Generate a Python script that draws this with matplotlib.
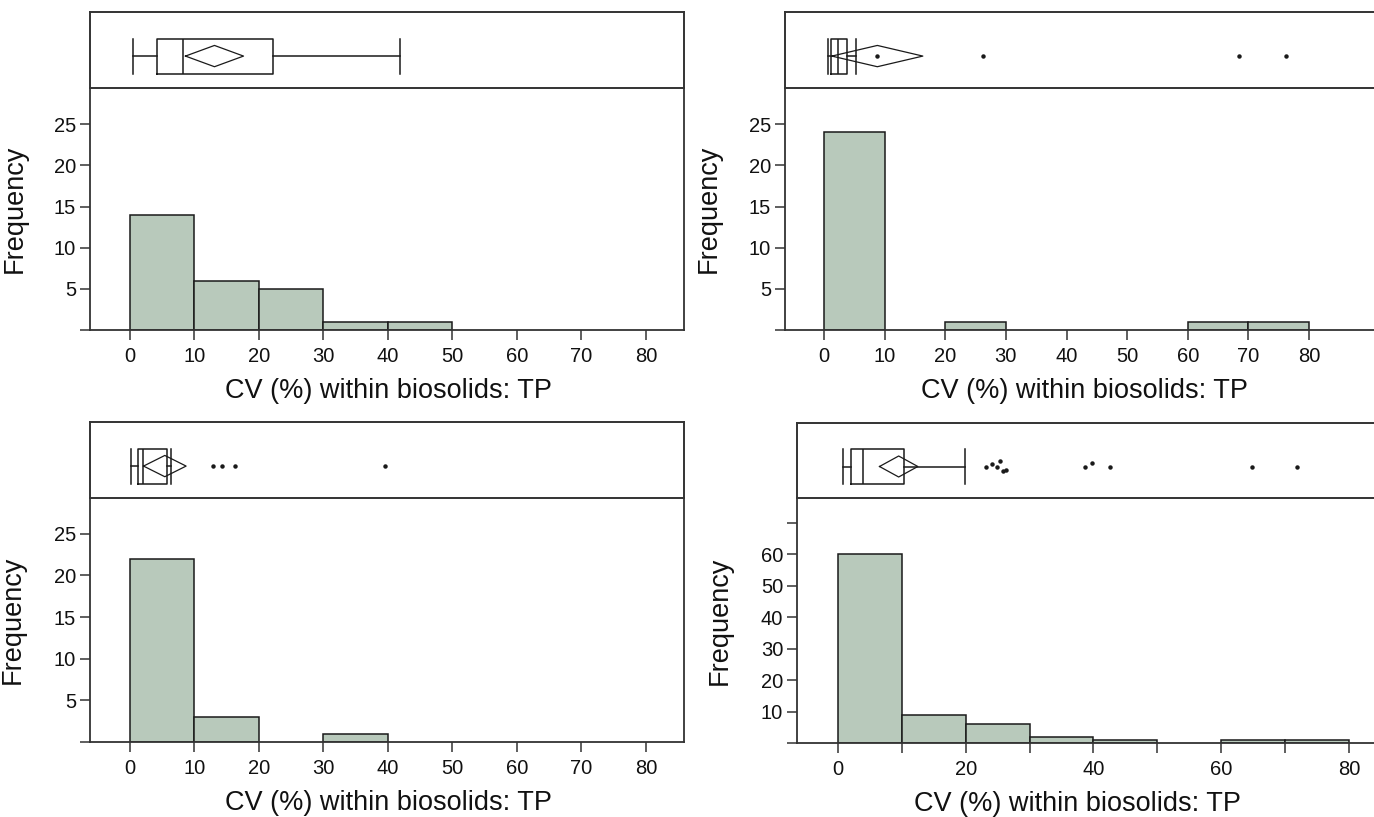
import matplotlib.pyplot as plt
import numpy as np

plt.rcParams['font.family'] = ['Liberation Sans', 'DejaVu Sans']

# histogram bins (CV %, width 10)
bin_left = [0, 10, 20, 30, 40, 50, 60, 70]
counts_tl = [14, 6, 5, 1, 1, 0, 0, 0]
counts_tr = [24, 0, 1, 0, 0, 0, 1, 1]
counts_bl = [22, 3, 0, 1, 0, 0, 0, 0]
counts_br = [60, 9, 6, 2, 1, 0, 1, 1]

# box plot summaries: whisker low, Q1, median, Q3, whisker high
box_tl = [0.4, 4.2, 8.2, 22.2, 41.9]
box_tr = [0.6, 1.2, 2.3, 3.8, 5.3]
box_bl = [0.2, 1.2, 2.0, 5.7, 6.3]
box_br = [0.8, 2.0, 3.9, 10.3, 19.9]

# mean and diamond half-width
mean_tl, ci_tl = 13.1, 4.5
mean_tr, ci_tr = 8.8, 7.5
mean_bl, ci_bl = 5.4, 3.3
mean_br, ci_br = 9.5, 3.0

# outliers and their small vertical jitter
out_tl = []
jit_tl = []
out_tr = [8.8, 26.2, 68.5, 76.2]
jit_tr = [0, 0, 0, 0]
out_bl = [12.9, 14.2, 16.3, 39.5]
jit_bl = [0, 0, 0, 0]
out_br = [23.1, 24.1, 24.9, 25.3, 25.9, 26.3, 38.7, 39.8, 42.6, 64.9, 71.8]
jit_br = [0, 0.03, 0, 0.07, -0.06, -0.05, 0, 0.05, 0, 0, 0]

W, H = 1374, 817
fig = plt.figure(figsize=(W / 100, H / 100), dpi=100)

BAR = '#b8c9bb'
EDGE = '#1a1a1a'
SPINE = '#333333'
TXT = '#111111'


def px_axes(l, t, r, b):
    return fig.add_axes([l / W, 1 - b / H, (r - l) / W, (b - t) / H])


def panel(box_px, hist_px, xlim, ylim, counts, box, mean, ci, outs, jits,
          yticks, ylabels, xmajor, xminor, ylab_x, xlab_center):
    axh = px_axes(*hist_px)
    axb = px_axes(*box_px)

    # box panel
    y0 = 0.42
    stats = [dict(whislo=box[0], q1=box[1], med=box[2], q3=box[3],
                  whishi=box[4], fliers=[])]
    axb.bxp(stats, positions=[y0], widths=0.46, orientation='horizontal',
            showfliers=False, capwidths=[0.46],
            boxprops=dict(color=EDGE, lw=1.1),
            medianprops=dict(color=EDGE, lw=1.1),
            whiskerprops=dict(color=EDGE, lw=1.1),
            capprops=dict(color=EDGE, lw=1.1))
    dh = 0.14
    axb.plot([mean - ci, mean, mean + ci, mean, mean - ci],
             [y0, y0 + dh, y0, y0 - dh, y0], color=EDGE, lw=0.9)
    if outs:
        axb.plot(outs, np.array(jits) + y0, ls='none', marker='o',
                 ms=2.2, color=EDGE)
    axb.set_xlim(*xlim)
    axb.set_ylim(0, 1)
    axb.set_xticks([])
    axb.set_yticks([])
    for s in axb.spines.values():
        s.set_color(SPINE)
        s.set_linewidth(1.4)

    # histogram panel
    heights = [c for c in counts if c > 0]
    lefts = [b for b, c in zip(bin_left, counts) if c > 0]
    axh.bar(lefts, heights, width=10, align='edge', color=BAR,
            edgecolor=EDGE, linewidth=1.1)
    axh.set_xlim(*xlim)
    axh.set_ylim(*ylim)
    axh.spines['top'].set_visible(False)
    for s in ['left', 'right', 'bottom']:
        axh.spines[s].set_color(SPINE)
        axh.spines[s].set_linewidth(1.3)
    axh.set_xticks(xmajor)
    axh.set_xticks(xminor, minor=True)
    axh.set_yticks(yticks)
    axh.set_yticklabels(ylabels)
    axh.tick_params(axis='both', which='both', direction='out', length=7,
                    width=1.1, color=SPINE, labelsize=14.5, pad=3,
                    labelcolor=TXT)
    axh.tick_params(axis='x', pad=5)
    axh.set_ylabel('Frequency', fontsize=19.5, color=TXT)
    axh.set_xlabel('CV (%) within biosolids: TP', fontsize=19.5, color=TXT)
    l, t, r, b = hist_px
    axh.yaxis.set_label_coords((ylab_x - l) / (r - l), 0.5)
    axh.xaxis.set_label_coords((xlab_center - l) / (r - l), -48 / (b - t))
    return axb, axh


ticks25 = [0, 5, 10, 15, 20, 25]
labs25 = ['', '5', '10', '15', '20', '25']
xt_all = [0, 10, 20, 30, 40, 50, 60, 70, 80]

panel((90, 12, 684, 88), (90, 88, 684, 330), (-6.2, 85.9), (0, 29.4),
      counts_tl, box_tl, mean_tl, ci_tl, out_tl, jit_tl,
      ticks25, labs25, xt_all, [], 28, 388)

panel((785, 12, 1400, 88), (785, 88, 1400, 330), (-6.43, 95.0), (0, 29.4),
      counts_tr, box_tr, mean_tr, ci_tr, out_tr, jit_tr,
      ticks25, labs25, xt_all, [], 722, 1084)

panel((90, 422, 684, 498), (90, 498, 684, 742), (-6.2, 85.9), (0, 29.3),
      counts_bl, box_bl, mean_bl, ci_bl, out_bl, jit_bl,
      ticks25, labs25, xt_all, [], 26, 388)

panel((797, 423, 1400, 498), (797, 498, 1400, 743), (-6.42, 88.0), (0, 77.8),
      counts_br, box_br, mean_br, ci_br, out_br, jit_br,
      [0, 10, 20, 30, 40, 50, 60, 70],
      ['', '10', '20', '30', '40', '50', '60', ''],
      [0, 20, 40, 60, 80], [10, 30, 50, 70], 733, 1077)

fig.savefig('out.png', dpi=100)
